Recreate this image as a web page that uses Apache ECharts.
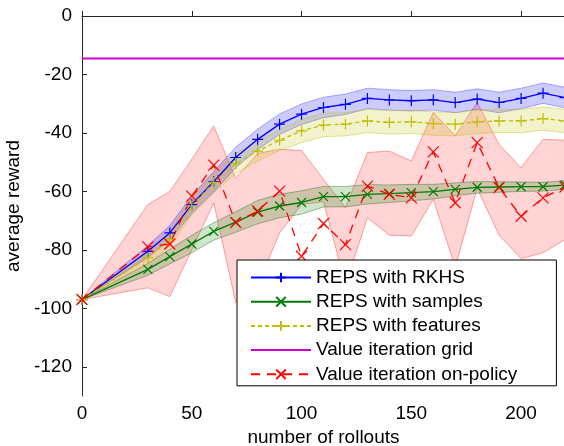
<!DOCTYPE html>
<html><head><meta charset="utf-8">
<script src="https://cdn.jsdelivr.net/npm/echarts@6/dist/echarts.min.js"></script>
<style>html,body{margin:0;padding:0;background:#fff}#c{width:564px;height:446px}</style>
</head><body><div id="c"></div>
<script>
// ---- data ----
const rollouts = [0, 30, 40, 50, 60, 70, 80, 90, 100, 110, 120, 130, 140, 150, 160, 170, 180, 190, 200, 210, 220];

const rkhsMean   = [-97, -80.5, -74.2, -64.5, -56.7, -48.4, -42.2, -37.0, -33.6, -31.3, -30.2, -28.2, -28.7, -29.0, -28.7, -29.6, -28.4, -29.6, -28.2, -26.4, -27.9];
const rkhsSpread = [0, 2, 2.5, 3, 3.5, 3.5, 3.5, 3.5, 3.5, 3.5, 3.5, 3.5, 3.5, 3.5, 3.5, 3.5, 3.5, 3.5, 3.5, 3.5, 3.5];

const samplesMean   = [-97, -86.7, -82.3, -78.0, -73.7, -70.5, -67.1, -65.0, -63.8, -61.8, -61.8, -61.0, -60.8, -60.4, -60.1, -59.3, -58.6, -58.5, -58.4, -58.4, -57.8];
const samplesSpread = [0, 2, 2.5, 3, 3, 3.5, 4, 4, 4, 3.5, 3.5, 3.3, 3, 2.8, 2.5, 2.2, 2, 1.8, 1.6, 1.5, 1.5];

const featuresMean   = [-97, -82.7, -76.4, -65.0, -57.0, -50.5, -46.2, -42.5, -39.3, -37.3, -37.0, -35.9, -36.4, -36.2, -36.8, -37.0, -36.2, -35.9, -35.9, -35.1, -35.9];
const featuresSpread = [0, 2, 2.5, 3, 3.5, 3.5, 3.5, 3.5, 4, 4, 4, 4, 4, 4, 4, 4, 4, 4, 4, 4, 4];

const gridX = [0, 220];
const gridY = [-14.5, -14.5];

const onPolicyMean  = [-97, -79.0, -78.0, -61.6, -51.0, -70.7, -66.7, -59.9, -82.2, -71.0, -78.2, -58.2, -61.0, -62.2, -46.5, -63.9, -43.3, -58.7, -68.5, -62.2, -58.5];
const onPolicyUpper = [-97, -64.5, -60.0, -49.0, -37.6, -55.5, -47.0, -45.6, -46.0, -55.9, -65.5, -46.7, -46.2, -49.6, -33.0, -41.0, -29.6, -44.0, -51.9, -42.2, -42.5];
const onPolicyLower = [-97, -93.0, -96.0, -80.0, -64.0, -98.0, -92.0, -74.2, -64.5, -63.5, -92.0, -69.0, -75.0, -75.3, -62.7, -86.0, -59.0, -75.0, -83.0, -81.0, -76.5];

const xTicks = [0, 50, 100, 150, 200];
const yTicks = [0, -20, -40, -60, -80, -100, -120];

const names = ['REPS with RKHS', 'REPS with samples', 'REPS with features', 'Value iteration grid', 'Value iteration on-policy'];

// ---- chart ----
const FONT = "'Liberation Sans', Arial, Helvetica, sans-serif";
const PLUS = 'path://M5,0L5,10M0,5L10,5';
const CROSS = 'path://M0,0L10,10M10,0L0,10';

function bandSeries(lower, upper, fill, edge) {
  return {
    type: 'custom', silent: true, z: 1,
    data: rollouts.map((x, i) => [x, lower[i], upper[i]]),
    encode: { x: 0, y: [1, 2] },
    renderItem: function (params, api) {
      if (params.dataIndex !== 0) return null;
      const pts = [];
      for (let i = 0; i < rollouts.length; i++) pts.push(api.coord([rollouts[i], upper[i]]));
      for (let i = rollouts.length - 1; i >= 0; i--) pts.push(api.coord([rollouts[i], lower[i]]));
      return { type: 'polygon', shape: { points: pts }, style: { fill: fill, stroke: edge, lineWidth: 1 } };
    }
  };
}
function spreadBand(mean, spread, fill, edge) {
  return bandSeries(mean.map((m, i) => m - spread[i]), mean.map((m, i) => m + spread[i]), fill, edge);
}
function lineSeries(name, xs, ys, color, symbol, size, dash, width) {
  const hasMarker = symbol !== 'none';
  return {
    type: 'line', name: name, z: 3,
    data: xs.map((x, i) => [x, ys[i]]),
    symbol: symbol, symbolSize: size, showSymbol: hasMarker, showAllSymbol: true,
    lineStyle: { color: color, width: width, type: dash },
    itemStyle: { color: 'rgba(0,0,0,0)', borderColor: hasMarker ? color : 'rgba(0,0,0,0)', borderWidth: hasMarker ? 1.2 : 0 },
    emphasis: { disabled: true },
    silent: true
  };
}

const chart = echarts.init(document.getElementById('c'), null, { renderer: 'canvas' });
chart.setOption({
  animation: false,
  backgroundColor: '#fff',
  textStyle: { fontFamily: FONT },
  grid: { left: 82, top: 16, width: 483, height: 380, containLabel: false, outerBoundsMode: 'none' },
  xAxis: {
    type: 'value', min: 0, max: 220,
    name: 'number of rollouts', nameLocation: 'middle', nameGap: 31,
    nameTextStyle: { fontSize: 19, color: '#000', fontFamily: FONT },
    axisLine: { show: true, lineStyle: { color: '#262626', width: 1 } },
    axisTick: { show: true, inside: true, length: 5, customValues: xTicks, lineStyle: { color: '#262626' } },
    axisLabel: { customValues: xTicks, fontSize: 19, color: '#000', margin: 8, fontFamily: FONT },
    splitLine: { show: false }
  },
  yAxis: {
    type: 'value', min: -130, max: 0,
    name: 'average reward', nameLocation: 'middle', nameGap: 53,
    nameTextStyle: { fontSize: 19, color: '#000', fontFamily: FONT },
    axisLine: { show: true, lineStyle: { color: '#262626', width: 1 } },
    axisTick: { show: true, inside: true, length: 5, customValues: yTicks, lineStyle: { color: '#262626' } },
    axisLabel: { customValues: yTicks, fontSize: 19, color: '#000', margin: 10, fontFamily: FONT },
    splitLine: { show: false }
  },
  legend: {
    data: names,
    orient: 'vertical', left: 237, top: 260,
    backgroundColor: '#fff', borderColor: '#000', borderWidth: 1,
    padding: [8, 39, 2, 13],
    itemWidth: 60, itemHeight: 12, itemGap: 5.2,
    textStyle: { fontSize: 19, color: '#000', fontFamily: FONT },
    selectedMode: false
  },
  series: [
    bandSeries(onPolicyLower, onPolicyUpper, 'rgba(255,0,0,0.17)', 'rgba(255,0,0,0.35)'),
    spreadBand(rkhsMean, rkhsSpread, 'rgba(0,0,255,0.2)', 'rgba(0,0,255,0.3)'),
    spreadBand(samplesMean, samplesSpread, 'rgba(0,128,0,0.2)', 'rgba(0,80,0,0.35)'),
    spreadBand(featuresMean, featuresSpread, 'rgba(191,191,0,0.2)', 'rgba(191,191,0,0.4)'),
    lineSeries(names[0], rollouts, rkhsMean, '#0000ff', PLUS, 11, 'solid', 1.3),
    lineSeries(names[1], rollouts, samplesMean, '#007a00', CROSS, 9, 'solid', 1.3),
    lineSeries(names[2], rollouts, featuresMean, '#bfbf00', PLUS, 11, [4, 3], 1.3),
    lineSeries(names[3], gridX, gridY, '#cc00cc', 'none', 0, 'solid', 2),
    lineSeries(names[4], rollouts, onPolicyMean, '#ff0000', CROSS, 11, [9, 7], 1.3)
  ]
});
</script>
</body></html>
